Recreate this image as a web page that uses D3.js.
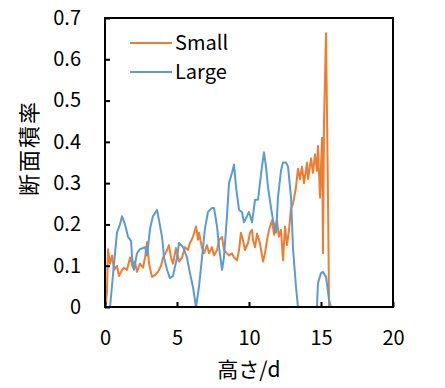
<!doctype html>
<html lang="ja">
<head>
<meta charset="utf-8">
<title>断面積率</title>
<script src="https://cdn.jsdelivr.net/npm/d3@7"></script>
<style>
  body { margin: 0; background: #fff; }
  svg text { font-family: "Noto Sans CJK JP", "Open Sans", sans-serif; fill: #000; }
</style>
</head>
<body>
<div id="chart"></div>
<script>
  // data
  const seriesNames = ['Small', 'Large'];
  const smallX = [0, 0.07, 0.14, 0.21, 0.35, 0.49, 0.63, 0.83, 0.97, 1.18, 1.32, 1.53, 1.74, 1.94, 2.08, 2.22, 2.43, 2.64, 2.78, 2.92,
    3.06, 3.26, 3.47, 3.68, 3.89, 4.03, 4.31, 4.44, 4.58, 4.72, 4.93, 5.14, 5.35, 5.56, 5.76, 5.9, 6.11, 6.32, 6.46, 6.53,
    6.74, 6.88, 7.08, 7.22, 7.43, 7.57, 7.78, 7.92, 8.13, 8.26, 8.47, 8.61, 8.82, 8.96, 9.17, 9.31, 9.44, 9.58, 9.72, 9.93,
    10.07, 10.21, 10.28, 10.42, 10.56, 10.76, 10.97, 11.11, 11.25, 11.39, 11.6, 11.74, 11.94, 12.08, 12.22, 12.36, 12.5, 12.64, 12.78, 12.92,
    13.06, 13.26, 13.4, 13.54, 13.68, 13.82, 14.03, 14.1, 14.31, 14.44, 14.58, 14.72, 14.79, 14.93, 15.07, 15.14, 15.21, 15.35, 15.49, 15.56, 20];
  const smallY = [0, 0.01, 0.04, 0.14, 0.105, 0.125, 0.09, 0.1, 0.075, 0.09, 0.095, 0.09, 0.12, 0.095, 0.11, 0.085, 0.105, 0.095, 0.12, 0.157,
    0.105, 0.073, 0.077, 0.085, 0.1, 0.12, 0.138, 0.15, 0.12, 0.105, 0.143, 0.11, 0.12, 0.145, 0.138, 0.155, 0.17, 0.195, 0.163, 0.18,
    0.143, 0.13, 0.15, 0.13, 0.145, 0.125, 0.138, 0.162, 0.17, 0.138, 0.13, 0.125, 0.13, 0.12, 0.113, 0.138, 0.18, 0.162, 0.138, 0.155,
    0.18, 0.187, 0.162, 0.145, 0.178, 0.155, 0.11, 0.13, 0.162, 0.187, 0.21, 0.175, 0.21, 0.17, 0.187, 0.113, 0.195, 0.15, 0.187, 0.24,
    0.25, 0.29, 0.335, 0.31, 0.34, 0.3, 0.35, 0.31, 0.36, 0.325, 0.37, 0.33, 0.39, 0.265, 0.41, 0.13, 0.45, 0.663, 0.25, 0, 0];

  const largeX = [0, 0.35, 0.56, 0.83, 1.04, 1.18, 1.39, 1.6, 1.81, 1.88, 2.01, 2.22, 2.43, 2.78, 2.92, 3.13, 3.33, 3.61, 3.75, 3.96,
    4.1, 4.31, 4.51, 4.72, 5.0, 5.14, 5.42, 5.69, 5.9, 6.11, 6.32, 6.53, 6.74, 6.94, 7.15, 7.43, 7.57, 7.78, 7.92, 8.13,
    8.26, 8.47, 8.61, 8.82, 8.96, 9.1, 9.31, 9.51, 9.65, 9.86, 10.0, 10.21, 10.42, 10.63, 10.76, 10.9, 11.04, 11.18, 11.32, 11.53,
    11.67, 11.88, 12.01, 12.22, 12.36, 12.57, 12.71, 12.92, 13.06, 13.26, 13.4, 14.72, 14.79, 15.0, 15.14, 15.35, 15.56, 15.69, 20];
  const largeY = [0, 0, 0.08, 0.18, 0.2, 0.22, 0.2, 0.17, 0.16, 0.12, 0.09, 0.13, 0.14, 0.145, 0.125, 0.19, 0.22, 0.235, 0.21, 0.17,
    0.12, 0.09, 0.07, 0.075, 0.12, 0.155, 0.145, 0.12, 0.082, 0.048, 0, 0.05, 0.12, 0.19, 0.23, 0.24, 0.24, 0.195, 0.145, 0.09,
    0.12, 0.22, 0.3, 0.325, 0.345, 0.29, 0.235, 0.23, 0.205, 0.22, 0.23, 0.205, 0.26, 0.26, 0.3, 0.34, 0.375, 0.34, 0.29, 0.24,
    0.21, 0.18, 0.265, 0.33, 0.35, 0.35, 0.34, 0.265, 0.14, 0.05, 0, 0, 0.058, 0.082, 0.085, 0.073, 0.017, 0, 0];

  const xTicks = [0, 5, 10, 15, 20];
  const yTicks = [0, 0.1, 0.2, 0.3, 0.4, 0.5, 0.6, 0.7];
  const colors = ['#ED7D31', '#5B9BD5'];

  const W = 445, H = 388;
  const margin = {left: 105, right: 52, top: 18, bottom: 81};

  const svg = d3.select('#chart').append('svg')
    .attr('width', W)
    .attr('height', H);

  const x = d3.scaleLinear().domain([0, 20]).range([margin.left, W - margin.right]);
  const y = d3.scaleLinear().domain([0, 0.7]).range([H - margin.bottom, margin.top]);

  const series = [
    smallX.map((v, i) => [v, smallY[i]]),
    largeX.map((v, i) => [v, largeY[i]])
  ];

  const line = d3.line()
    .x(d => x(d[0]))
    .y(d => y(d[1]));

  svg.selectAll('path.series')
    .data(series)
    .join('path')
    .attr('class', 'series')
    .attr('fill', 'none')
    .attr('stroke', (d, i) => colors[i])
    .attr('stroke-width', 2)
    .attr('stroke-linejoin', 'round')
    .attr('d', line);

  // frame
  svg.append('rect')
    .attr('x', x(0))
    .attr('y', y(0.7))
    .attr('width', x(20) - x(0))
    .attr('height', y(0) - y(0.7))
    .attr('fill', 'none')
    .attr('stroke', '#000')
    .attr('stroke-width', 2);

  const yAxis = svg.append('g')
    .attr('transform', `translate(${x(0)},0)`)
    .call(d3.axisLeft(y).tickValues(yTicks).tickSize(-5).tickPadding(24)
      .tickFormat(d => d === 0 ? '0' : d3.format('.1f')(d)));

  const xAxis = svg.append('g')
    .attr('transform', `translate(0,${y(0)})`)
    .call(d3.axisBottom(x).tickValues(xTicks).tickSize(-5).tickPadding(24));

  [xAxis, yAxis].forEach(g => {
    g.select('.domain').remove();
    g.selectAll('.tick line').attr('stroke', '#000').attr('stroke-width', 2);
    g.selectAll('.tick text').attr('font-size', 20).style('font-family', '"Noto Sans CJK JP", sans-serif');
  });

  // axis titles
  svg.append('text')
    .attr('x', (x(0) + x(20)) / 2)
    .attr('y', 377)
    .attr('text-anchor', 'middle')
    .attr('font-size', 21)
    .text('高さ/d');

  svg.append('text')
    .attr('transform', `translate(37,148) rotate(-90)`)
    .attr('text-anchor', 'middle')
    .attr('font-size', 22)
    .attr('letter-spacing', 2)
    .text('断面積率');

  // legend
  const legend = svg.append('g');
  seriesNames.forEach((name, i) => {
    const ly = 43 + i * 29;
    legend.append('line')
      .attr('x1', 130).attr('x2', 172)
      .attr('y1', ly).attr('y2', ly)
      .attr('stroke', colors[i])
      .attr('stroke-width', 2);
    legend.append('text')
      .attr('x', 175)
      .attr('y', ly + 7)
      .attr('font-size', 20)
      .text(name);
  });
</script>
</body>
</html>
